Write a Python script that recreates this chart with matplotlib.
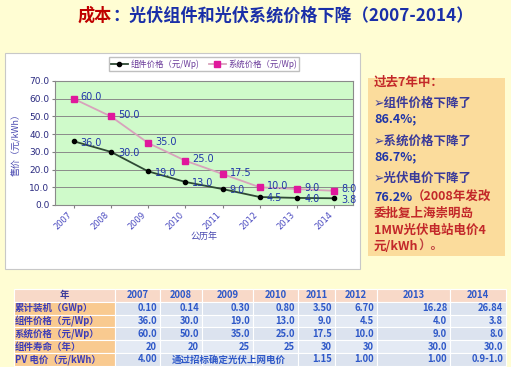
import numpy as np
import matplotlib
matplotlib.use("Agg")
import matplotlib.pyplot as plt
from matplotlib.patches import Rectangle, FancyBboxPatch

plt.rcParams['font.family'] = ['Noto Sans CJK SC', 'DejaVu Sans']

# data
years = [2007, 2008, 2009, 2010, 2011, 2012, 2013, 2014]
module_price = [36.0, 30.0, 19.0, 13.0, 9.0, 4.5, 4.0, 3.8]
system_price = [60.0, 50.0, 35.0, 25.0, 17.5, 10.0, 9.0, 8.0]
capacity = [0.10, 0.14, 0.30, 0.80, 3.50, 6.70, 16.28, 26.84]
lifetime = ["20", "20", "25", "25", "30", "30", "30.0", "30.0"]
tariff = ["4.00", "通过招标确定光伏上网电价", "1.15", "1.00", "1.00", "0.9-1.0"]
row_labels = ["年", "累计装机（GWp）", "组件价格（元/Wp）", "系统价格（元/Wp）",
              "组件寿命（年）", "PV 电价（元/kWh）"]

W, H = 511, 367
RED = "#C3282A"
BLUE = "#1F35A8"
NAVY = "#3A3A9A"

fig = plt.figure(figsize=(W / 100, H / 100), dpi=100, facecolor="#FFFDD3")


def fx(px):
    return px / W


def fy(py):
    return 1 - py / H


def rich_line(x, y, parts, **kw):
    r = fig.canvas.get_renderer()
    for s, c in parts:
        t = fig.text(x, y, s, color=c, va="center", ha="left", **kw)
        bb = t.get_window_extent(renderer=r)
        x += bb.width / fig.bbox.width


# title
rich_line(fx(78), fy(16), [("成本", "#C00000"),
                           ("：光伏组件和光伏系统价格下降（2007-2014）", "#1A2FA8")],
          fontsize=12.3, fontweight="bold")

# white chart panel
fig.patches.append(Rectangle((fx(5), fy(269)), fx(355), 216 / H, transform=fig.transFigure,
                             facecolor="white", edgecolor="#C8C8C8", lw=0.8, zorder=-1))

ax = fig.add_axes([fx(55), fy(205), fx(298), 124 / H])
ax.set_facecolor("#CFFACA")
x = np.arange(len(years))
ax.plot(x, system_price, color="#D8A2BC", lw=1.3, marker="s", ms=4.5,
        mfc="#E0189C", mec="#E0189C", label="系统价格（元/Wp)", zorder=3)
ax.plot(x, module_price, color="#2F4A35", lw=1.3, marker="o", ms=3,
        mfc="black", mec="black", label="组件价格（元/Wp)", zorder=3)
for xi, v in zip(x, system_price):
    ax.annotate(f"{v:.1f}", (xi, v), xytext=(5, 1), textcoords="offset points",
                va="center", ha="left", fontsize=7, color=BLUE, family="DejaVu Sans", zorder=4)
for xi, v in zip(x, module_price):
    ax.annotate(f"{v:.1f}", (xi, v), xytext=(5, -1), textcoords="offset points",
                va="center", ha="left", fontsize=7, color=BLUE, family="DejaVu Sans", zorder=4)
ax.set_xlim(-0.5, len(years) - 0.5)
ax.set_ylim(0, 70)
ax.set_yticks(np.arange(0, 71, 10))
ax.set_yticklabels([f"{v:.1f}" for v in np.arange(0, 71, 10)], fontsize=6.5,
                   color="#2A2A80", family="DejaVu Sans")
ax.set_xticks(x)
ax.set_xticklabels([str(y) for y in years], rotation=45, ha="right", fontsize=6,
                   color="#4A4AC0", family="DejaVu Sans")
ax.grid(axis="y", color="#8A8A8A", lw=0.7)
ax.set_axisbelow(True)
ax.tick_params(length=2, color="#808080", pad=2)
for s in ax.spines.values():
    s.set_color("#8A8A8A")
    s.set_linewidth(0.8)
ax.set_ylabel("售价（元/kWh）", fontsize=6.5, color="#4848B0", labelpad=6)
ax.set_xlabel("公历年", fontsize=6.5, color="#4848B0", labelpad=1)

h, l = ax.get_legend_handles_labels()
fig.legend(h[::-1], l[::-1], loc="center", bbox_to_anchor=(fx(204), fy(64)), ncol=2,
           fontsize=6, frameon=True, fancybox=False, edgecolor="#B0B0B0",
           labelcolor="#6A3A9A", handlelength=2, columnspacing=1.2,
           borderpad=0.3, handletextpad=0.3)

# orange note box
fig.patches.append(FancyBboxPatch((fx(368), fy(256)), fx(137), 178 / H,
                                  boxstyle="square,pad=0", transform=fig.transFigure,
                                  facecolor="#FBDC9C", edgecolor="none", zorder=-1))
tx = fx(374)
kw = dict(fontsize=9, fontweight="bold")
rich_line(tx, fy(82), [("过去7年中：", RED)], **kw)
rich_line(tx, fy(103), [("➢组件价格下降了", NAVY)], **kw)
rich_line(tx, fy(119), [("86.4%;", BLUE)], **kw)
rich_line(tx, fy(141), [("➢系统价格下降了", NAVY)], **kw)
rich_line(tx, fy(157), [("86.7%;", BLUE)], **kw)
rich_line(tx, fy(178), [("➢光伏电价下降了", NAVY)], **kw)
rich_line(tx, fy(197), [("76.2%", BLUE), ("（2008年发改", RED)], **kw)
rich_line(tx, fy(213), [("委批复上海崇明岛", RED)], **kw)
rich_line(tx, fy(230), [("1MW光伏电站电价4", RED)], **kw)
rich_line(tx, fy(246), [("元/kWh", RED), ("）。", "#C04040")], **kw)

# table
col_edges = [14, 115, 160, 202, 253, 298, 335, 377, 450, 506]
row_top, row_h = 289, 12.8
tcolor = "#2E58C8"
tkw = dict(fontsize=6.8, fontweight="bold", va="center", transform=fig.transFigure)
rows = [[str(y) for y in years],
        [f"{v:.2f}" for v in capacity],
        [f"{v:.1f}" for v in module_price],
        [f"{v:.1f}" for v in system_price],
        lifetime]
for r in range(6):
    y0 = row_top + r * row_h
    yc = fy(y0 + row_h / 2)
    for c in range(len(col_edges) - 1):
        if r == 0:
            fc = "#F8D9C8"
        elif c == 0:
            fc = "#F9CA90"
        else:
            fc = "#DCE3EF" if r % 2 else "#E4EAF4"
        fig.patches.append(Rectangle((fx(col_edges[c]), fy(y0 + row_h)),
                                     fx(col_edges[c + 1] - col_edges[c]), row_h / H,
                                     transform=fig.transFigure, facecolor=fc,
                                     edgecolor="white", lw=0.8, zorder=-1))
    if r == 0:
        fig.text(fx((col_edges[0] + col_edges[1]) / 2), yc, row_labels[0], ha="center",
                 color=NAVY, **tkw)
    else:
        fig.text(fx(col_edges[0] + 1), yc, row_labels[r], ha="left", color="#3D3DB8", **tkw)
    if r == 0:
        for c, s in enumerate(rows[0]):
            fig.text(fx((col_edges[c + 1] + col_edges[c + 2]) / 2), yc, s, ha="center",
                     color=tcolor, **tkw)
    elif r < 5:
        for c, s in enumerate(rows[r]):
            fig.text(fx(col_edges[c + 2] - 3), yc, s, ha="right", color=tcolor, **tkw)
    else:
        fig.text(fx(col_edges[2] - 3), yc, tariff[0], ha="right", color=tcolor, **tkw)
        fig.text(fx((col_edges[2] + col_edges[5]) / 2), yc, tariff[1], ha="center",
                 color=tcolor, **tkw)
        for c, s in enumerate(tariff[2:]):
            fig.text(fx(col_edges[c + 6] - 3), yc, s, ha="right", color=tcolor, **tkw)

fig.savefig("out.png", dpi=100, facecolor=fig.get_facecolor())
